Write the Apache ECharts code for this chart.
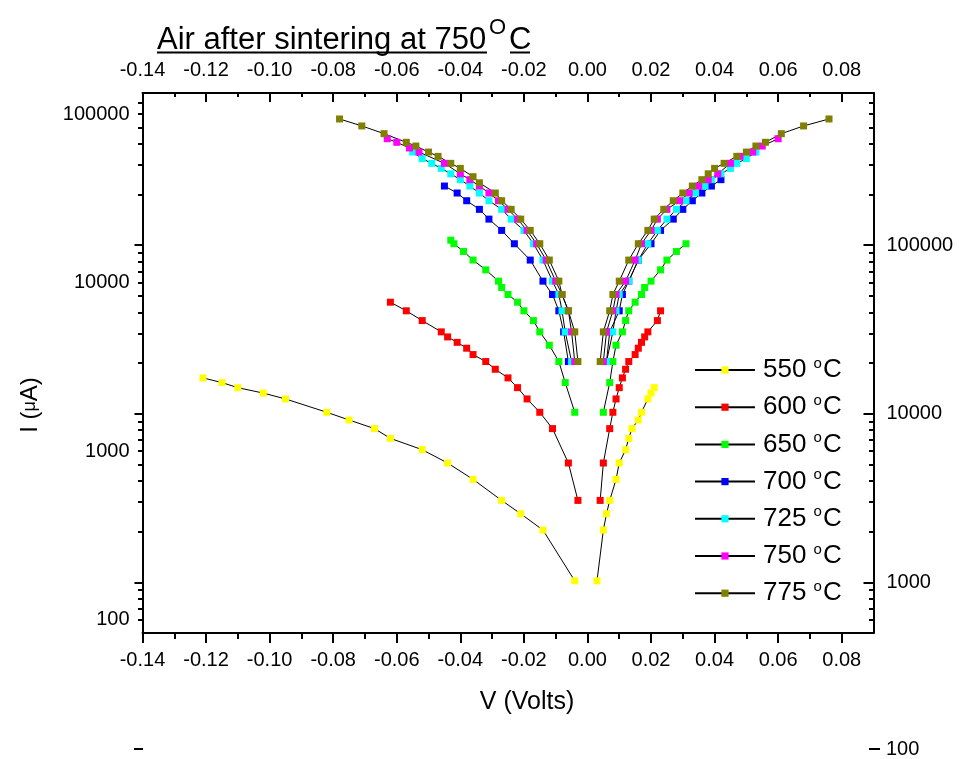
<!DOCTYPE html>
<html><head><meta charset="utf-8">
<script src="https://cdn.jsdelivr.net/npm/echarts@6/dist/echarts.min.js"></script>
<style>html,body{margin:0;padding:0;background:#fff}#c{width:959px;height:759px}</style>
</head><body><div id="c"></div>
<script>
// ---- categories / legend ----
const temps = ['550', '600', '650', '700', '725', '750', '775'];
const colors = ['#ffff00', '#ff0000', '#00ff00', '#0000ff', '#00ffff', '#ff00ff', '#808000'];

// ---- series values (V in volts, I in µA), left (negative V) and right (positive V) branches ----
const v550L = [-0.121,-0.115,-0.110,-0.102,-0.095,-0.082,-0.075,-0.067,-0.062,-0.052,-0.044,-0.036,-0.027,-0.021,-0.014,-0.004];
const i550L = [2720,2550,2380,2210,2040,1700,1530,1360,1190,1020,850,680,510,425,340,170];
const v550R = [0.003,0.005,0.006,0.007,0.009,0.010,0.012,0.013,0.014,0.016,0.017,0.019,0.020,0.021];
const i550R = [170,340,425,510,680,850,1020,1190,1360,1530,1700,2040,2210,2380];

const v600L = [-0.062,-0.057,-0.052,-0.046,-0.044,-0.041,-0.038,-0.036,-0.032,-0.029,-0.025,-0.022,-0.019,-0.015,-0.011,-0.006,-0.003];
const i600L = [7650,6800,5950,5100,4760,4420,4080,3740,3400,3060,2720,2380,2040,1700,1360,850,510];
const v600R = [0.004,0.005,0.007,0.008,0.009,0.010,0.011,0.012,0.013,0.015,0.016,0.017,0.018,0.019,0.022,0.023];
const i600R = [510,850,1360,1700,2040,2380,2720,3060,3400,3740,4080,4420,4760,5100,5950,6800];

const v650L = [-0.043,-0.042,-0.039,-0.036,-0.032,-0.028,-0.027,-0.025,-0.022,-0.020,-0.017,-0.015,-0.012,-0.009,-0.007,-0.004];
const i650L = [17850,17000,15300,13600,11900,10200,9350,8500,7650,6800,5950,5100,4250,3400,2550,1700];
const v650R = [0.005,0.007,0.008,0.009,0.011,0.012,0.013,0.015,0.017,0.018,0.020,0.023,0.025,0.028,0.031];
const i650R = [1700,2550,3400,4250,5100,5950,6800,7650,8500,9350,10200,11900,13600,15300,17000];

const v700L = [-0.045,-0.041,-0.038,-0.034,-0.031,-0.027,-0.023,-0.018,-0.014,-0.011,-0.009,-0.0075,-0.006];
const i700L = [37400,34000,30600,27200,23800,20400,17000,13600,10200,8500,6800,5100,3400];
const v700R = [0.006,0.007,0.010,0.011,0.013,0.016,0.020,0.023,0.027,0.030,0.033,0.036,0.039,0.042];
const i700R = [3400,5100,6800,8500,10200,13600,17000,20400,23800,27200,30600,34000,37400,40800];

const v725L = [-0.055,-0.052,-0.049,-0.046,-0.043,-0.040,-0.037,-0.034,-0.031,-0.027,-0.024,-0.020,-0.017,-0.014,-0.011,-0.009,-0.008,-0.007,-0.005];
const i725L = [59500,54400,51000,47600,44200,40800,37400,34000,30600,27200,23800,20400,17000,13600,10200,8500,6800,5100,3400];
const v725R = [0.006,0.008,0.009,0.010,0.013,0.016,0.019,0.022,0.025,0.028,0.031,0.034,0.037,0.039,0.042,0.045,0.047,0.050,0.053];
const i725R = [3400,5100,6800,8500,10200,13600,17000,20400,23800,27200,30600,34000,37400,40800,44200,47600,51000,54400,59500];

const v750L = [-0.063,-0.060,-0.056,-0.053,-0.045,-0.040,-0.037,-0.034,-0.031,-0.028,-0.025,-0.022,-0.019,-0.016,-0.013,-0.010,-0.008,-0.006,-0.005,-0.004];
const i750L = [71400,68000,62900,59500,51000,44200,40800,37400,34000,30600,27200,23800,20400,17000,13600,10200,8500,6800,5100,3400];
const v750R = [0.005,0.006,0.008,0.009,0.012,0.015,0.017,0.020,0.022,0.025,0.029,0.032,0.035,0.038,0.041,0.045,0.048,0.052,0.055,0.060];
const i750R = [3400,5100,6800,8500,10200,13600,17000,20400,23800,27200,30600,34000,37400,40800,44200,51000,56100,59500,64600,71400];

const v775L = [-0.078,-0.071,-0.064,-0.057,-0.054,-0.050,-0.047,-0.043,-0.040,-0.036,-0.034,-0.029,-0.027,-0.024,-0.021,-0.018,-0.015,-0.012,-0.009,-0.008,-0.006,-0.004,-0.003];
const i775L = [93500,85000,76500,68000,64600,59500,56100,51000,47600,42500,39100,34000,30600,27200,23800,20400,17000,13600,10200,8500,6800,5100,3400];
const v775R = [0.004,0.005,0.007,0.008,0.010,0.013,0.016,0.019,0.021,0.024,0.027,0.030,0.033,0.036,0.038,0.040,0.043,0.047,0.050,0.053,0.056,0.061,0.068,0.076];
const i775R = [3400,5100,6800,8500,10200,13600,17000,20400,23800,27200,30600,34000,37400,40800,44200,47600,51000,56100,59500,64600,68000,76500,85000,93500];

// ---- tick labels ----
const xMajor = [-0.14,-0.12,-0.10,-0.08,-0.06,-0.04,-0.02,0.00,0.02,0.04,0.06,0.08];
const xMinor = [-0.13,-0.11,-0.09,-0.07,-0.05,-0.03,-0.01,0.01,0.03,0.05,0.07];
const yLeftLabels = [100,1000,10000,100000];
const yRightLabels = [1000,10000,100000];
const yRightMinor = [600,700,800,900,2000,3000,4000,5000,6000,7000,8000,9000,
  20000,30000,40000,50000,60000,70000,80000,90000,200000,300000,400000,500000,600000,700000];

const F = "'Liberation Sans', Arial, Helvetica, sans-serif";
const sets = [[v550L,i550L,v550R,i550R],[v600L,i600L,v600R,i600R],[v650L,i650L,v650R,i650R],
  [v700L,i700L,v700R,i700R],[v725L,i725L,v725R,i725R],[v750L,i750L,v750R,i750R],[v775L,i775L,v775R,i775R]];

const series = [];
temps.forEach((t, k) => {
  const [vl, il, vr, ir] = sets[k];
  [[vl, il], [vr, ir]].forEach(([vs, is]) => {
    series.push({
      name: t, type: 'line', xAxisIndex: 0, yAxisIndex: 0,
      data: vs.map((v, j) => [v, is[j]]),
      symbol: 'rect', symbolSize: 7, showSymbol: true,
      lineStyle: { color: '#000', width: 1 },
      itemStyle: { color: colors[k] },
      emphasis: { disabled: true }, animation: false
    });
  });
});

const black = { color: '#000', width: 2 };
const lbl = { color: '#000', fontSize: 20, fontFamily: F };

const option = {
  animation: false,
  backgroundColor: '#fff',
  textStyle: { fontFamily: F },
  grid: { left: 142.5, top: 93, width: 731, height: 540, containLabel: false },
  xAxis: [
    { type: 'value', position: 'bottom', min: -0.14, max: 0.09, splitLine: { show: false },
      axisLine: { show: true, onZero: false, lineStyle: black },
      axisTick: { show: true, inside: false, length: 10, customValues: xMajor, lineStyle: black },
      axisLabel: Object.assign({ show: true, customValues: xMajor, margin: 17, formatter: v => v.toFixed(2) }, lbl) },
    { type: 'value', position: 'bottom', min: -0.14, max: 0.09, splitLine: { show: false },
      axisLine: { show: false, onZero: false },
      axisTick: { show: true, inside: false, length: 6, customValues: xMinor, lineStyle: black },
      axisLabel: { show: false } },
    { type: 'value', position: 'top', min: -0.14, max: 0.09, splitLine: { show: false },
      axisLine: { show: true, onZero: false, lineStyle: black },
      axisTick: { show: true, inside: true, length: 9, customValues: xMajor, lineStyle: black },
      axisLabel: Object.assign({ show: true, customValues: xMajor, margin: 13, formatter: v => v.toFixed(2) }, lbl) },
    { type: 'value', position: 'top', min: -0.14, max: 0.09, splitLine: { show: false },
      axisLine: { show: false, onZero: false },
      axisTick: { show: true, inside: true, length: 4, customValues: xMinor, lineStyle: black },
      axisLabel: { show: false } }
  ],
  yAxis: [
    { type: 'log', logBase: 10, position: 'left', min: 500 / 6, max: 800000 / 6, splitLine: { show: false },
      axisLine: { show: true, onZero: false, lineStyle: black },
      axisTick: { show: false },
      axisLabel: Object.assign({ show: true, customValues: yLeftLabels, margin: 13, formatter: v => String(Math.round(v)) }, lbl) },
    { type: 'log', logBase: 10, position: 'right', min: 500, max: 800000, splitLine: { show: false },
      axisLine: { show: true, onZero: false, lineStyle: black },
      axisTick: { show: true, inside: true, length: 10, customValues: yRightLabels, lineStyle: black },
      axisLabel: Object.assign({ show: true, customValues: yRightLabels, margin: 13, formatter: v => String(Math.round(v)) }, lbl) },
    { type: 'log', logBase: 10, position: 'right', min: 500, max: 800000, splitLine: { show: false },
      axisLine: { show: false, onZero: false },
      axisTick: { show: true, inside: true, length: 4.5, customValues: yRightMinor, lineStyle: black },
      axisLabel: { show: false } },
    { type: 'log', logBase: 10, position: 'left', min: 500, max: 800000, splitLine: { show: false },
      axisLine: { show: false, onZero: false },
      axisTick: { show: true, inside: false, length: 8, customValues: yRightLabels, lineStyle: black },
      axisLabel: { show: false } },
    { type: 'log', logBase: 10, position: 'left', min: 500, max: 800000, splitLine: { show: false },
      axisLine: { show: false, onZero: false },
      axisTick: { show: true, inside: false, length: 4.5, customValues: yRightMinor, lineStyle: black },
      axisLabel: { show: false } }
  ],
  legend: {
    show: true, orient: 'vertical', left: 694, top: 356, padding: 0,
    itemWidth: 60, itemHeight: 9, itemGap: 10.2,
    data: temps,
    formatter: n => '{n|' + n + ' }{s|o}{n|C}',
    textStyle: {
      color: '#000', fontFamily: F, padding: [0, 0, 0, 3],
      rich: {
        n: { fontSize: 26, lineHeight: 28, fontFamily: F, color: '#000' },
        s: { fontSize: 15, lineHeight: 28, fontFamily: F, color: '#000', verticalAlign: 'top', padding: [0, 1, 0, 0] }
      }
    },
    selectedMode: false
  },
  graphic: [
    { type: 'text', x: 157, y: 40, style: { text: 'Air after sintering at 750', fontSize: 31, fontFamily: F, fill: '#000', align: 'left', verticalAlign: 'middle' } },
    { type: 'text', x: 489, y: 28, style: { text: 'O', fontSize: 22, fontFamily: F, fill: '#000', align: 'left', verticalAlign: 'middle' } },
    { type: 'text', x: 509, y: 40, style: { text: 'C', fontSize: 31, fontFamily: F, fill: '#000', align: 'left', verticalAlign: 'middle' } },
    { type: 'line', shape: { x1: 157, y1: 52.5, x2: 487, y2: 52.5 }, style: { stroke: '#000', lineWidth: 2 } },
    { type: 'line', shape: { x1: 510, y1: 52.5, x2: 530, y2: 52.5 }, style: { stroke: '#000', lineWidth: 2 } },
    { type: 'text', x: 527, y: 702, style: { text: 'V (Volts)', fontSize: 25, fontFamily: F, fill: '#000', align: 'center', verticalAlign: 'middle' } },
    { type: 'text', x: 30, y: 405, rotation: Math.PI / 2, style: {
        text: '{a|I (}{b|μ}{a|A)}', align: 'center', verticalAlign: 'middle',
        rich: { a: { fontSize: 24, fontFamily: F, fill: '#000' }, b: { fontSize: 18, fontFamily: F, fill: '#000' } } } },
    { type: 'line', shape: { x1: 134, y1: 749, x2: 143, y2: 749 }, style: { stroke: '#000', lineWidth: 2 } },
    { type: 'line', shape: { x1: 869, y1: 749, x2: 880, y2: 749 }, style: { stroke: '#000', lineWidth: 2 } },
    { type: 'text', x: 886, y: 749, style: { text: '100', fontSize: 20, fontFamily: F, fill: '#000', align: 'left', verticalAlign: 'middle' } }
  ],
  series: series
};

const chart = echarts.init(document.getElementById('c'), null, { renderer: 'canvas' });
chart.setOption(option);
</script>
</body></html>
